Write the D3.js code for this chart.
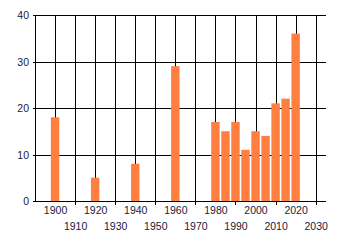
<!DOCTYPE html>
<meta charset="utf-8">
<style>
  body { margin: 0; background: #fff; }
  text { font-family: "Liberation Sans", Arial, sans-serif; font-size: 10.5px; fill: #1a1a40; }
  .grid line { stroke: #000; stroke-width: 1; shape-rendering: crispEdges; }
</style>
<body>
<svg width="340" height="245"></svg>
<script src="https://d3js.org/d3.v7.min.js"></script>
<script>
// years and counts
var years  = [1900, 1920, 1940, 1960, 1980, 1985, 1990, 1995, 2000, 2005, 2010, 2015, 2020];
var counts = [18, 5, 8, 29, 17, 15, 17, 11, 15, 14, 21, 22, 36];
var yTicks = [0, 10, 20, 30, 40];
var xTicks = [1900, 1910, 1920, 1930, 1940, 1950, 1960, 1970, 1980, 1990, 2000, 2010, 2020, 2030];

var svg = d3.select("svg");

var x = d3.scaleLinear().domain([1890, 2035]).range([35, 325.7]);
var y = d3.scaleLinear().domain([0, 40]).range([201, 15]);

var grid = svg.append("g").attr("class", "grid");

// horizontal grid
grid.selectAll("line.h")
  .data(yTicks)
  .enter().append("line")
  .attr("class", "h")
  .attr("x1", x(1890) - 2)
  .attr("x2", x(2035))
  .attr("y1", function(d) { return Math.round(y(d)) + 0.5; })
  .attr("y2", function(d) { return Math.round(y(d)) + 0.5; });

// vertical grid, odd decades get a little tick below the axis
grid.selectAll("line.v")
  .data(xTicks)
  .enter().append("line")
  .attr("class", "v")
  .attr("x1", function(d) { return Math.round(x(d)) + 0.5; })
  .attr("x2", function(d) { return Math.round(x(d)) + 0.5; })
  .attr("y1", y(40))
  .attr("y2", function(d) { return (d / 10) % 2 ? y(0) + 4 : y(0); });

// y axis line
grid.append("line")
  .attr("x1", x(1890) + 0.5).attr("x2", x(1890) + 0.5)
  .attr("y1", y(40)).attr("y2", y(0));

// bars
svg.append("g")
  .selectAll("rect")
  .data(years)
  .enter().append("rect")
  .attr("x", function(d) { return x(d - 2.1); })
  .attr("width", x(4.2) - x(0))
  .attr("y", function(d, i) { return y(counts[i]); })
  .attr("height", function(d, i) { return y(0) - y(counts[i]); })
  .attr("fill", "#ff7f41");

// axis labels
svg.append("g")
  .selectAll("text")
  .data(yTicks)
  .enter().append("text")
  .attr("x", 29)
  .attr("y", function(d) { return y(d) + 4; })
  .attr("text-anchor", "end")
  .text(function(d) { return d; });

svg.append("g")
  .selectAll("text")
  .data(xTicks)
  .enter().append("text")
  .attr("x", function(d) { return x(d) + 0.5; })
  .attr("y", function(d) { return (d / 10) % 2 ? 229.5 : 214; })
  .attr("text-anchor", "middle")
  .text(function(d) { return d; });
</script>
</body>
